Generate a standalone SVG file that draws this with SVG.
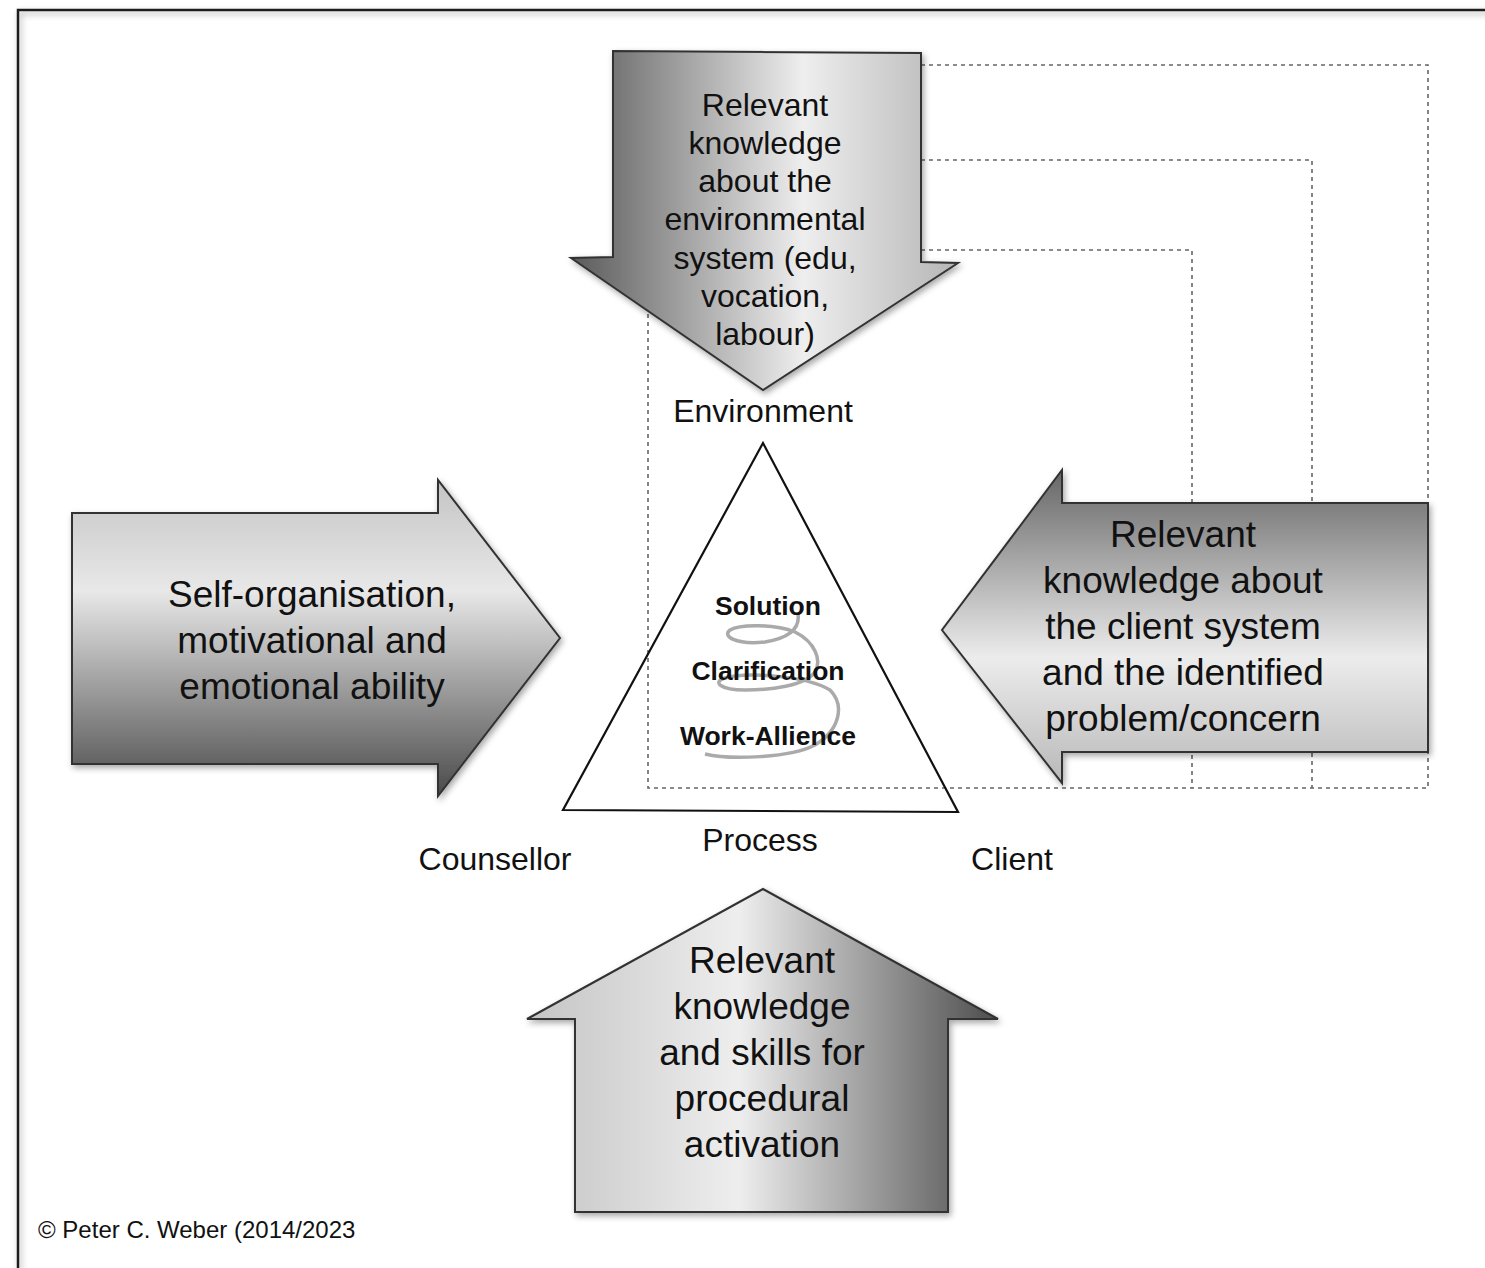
<svg xmlns="http://www.w3.org/2000/svg" width="1485" height="1268" viewBox="0 0 1485 1268">
<defs>
<style>
.t{font-family:"Liberation Sans",Arial,sans-serif;fill:#111;text-anchor:middle}
.big{font-size:37px}
.mid{font-size:32px}
.b{font-size:26.5px;font-weight:bold}
.arrow{stroke:#333;stroke-width:2;stroke-linejoin:miter}
.dash{fill:none;stroke:#666;stroke-width:1.6;stroke-dasharray:4 4}
</style>
<filter id="sh" x="-10%" y="-10%" width="125%" height="125%">
<feDropShadow dx="2" dy="3" stdDeviation="3" flood-color="#000" flood-opacity="0.35"/>
</filter>
<linearGradient id="gTop" x1="0" y1="0" x2="1" y2="0">
<stop offset="0" stop-color="#5a5a5a"/><stop offset="0.6" stop-color="#eeeeee"/><stop offset="1" stop-color="#b5b5b5"/>
</linearGradient>
<linearGradient id="gLeft" x1="0" y1="0" x2="0" y2="1">
<stop offset="0" stop-color="#c4c4c4"/><stop offset="0.35" stop-color="#e8e8e8"/><stop offset="1" stop-color="#4a4a4a"/>
</linearGradient>
<linearGradient id="gRight" x1="0" y1="0" x2="0" y2="1">
<stop offset="0" stop-color="#666"/><stop offset="0.6" stop-color="#ececec"/><stop offset="1" stop-color="#b8b8b8"/>
</linearGradient>
<linearGradient id="gBottom" x1="0" y1="0" x2="1" y2="0">
<stop offset="0" stop-color="#c4c4c4"/><stop offset="0.45" stop-color="#eeeeee"/><stop offset="1" stop-color="#4d4d4d"/>
</linearGradient>
</defs>
<rect width="1485" height="1268" fill="#fff"/>
<rect x="18" y="10" width="1500" height="1300" fill="none" stroke="#1a1a1a" stroke-width="2.5" filter="url(#sh)"/>

<g id="connectors">
<polyline class="dash" points="921,65 1428,65 1428,788"/>
<polyline class="dash" points="921,160 1312,160 1312,788"/>
<polyline class="dash" points="921,250 1192,250 1192,788"/>
<polyline class="dash" points="648,290 648,788 1428,788"/>
</g>

<g id="process-triangle">
<polygon points="763,443 563,810 958,812" fill="none" stroke="#111" stroke-width="2.2"/>
<path d="M798 614 C800 628,790 638,765 642 C735 645,722 636,730 630 C740 624,775 624,795 632 C815 642,822 660,815 672 C805 686,770 690,745 690 C720 690,712 682,725 678 C745 672,805 675,830 690 C845 705,840 730,815 745 C790 758,730 760,705 754" fill="none" stroke="#aaa" stroke-width="3.5"/>
<text class="t b" x="768" y="615">Solution</text>
<text class="t b" x="768" y="680">Clarification</text>
<text class="t b" x="768" y="745">Work-Allience</text>
</g>

<g id="top-arrow">
<polygon class="arrow" points="613,51 921,53 921,262 958,263 763,390 571,258 613,257" fill="url(#gTop)" filter="url(#sh)"/>
<text class="t mid" x="765" y="116">Relevant</text>
<text class="t mid" x="765" y="154">knowledge</text>
<text class="t mid" x="765" y="192">about the</text>
<text class="t mid" x="765" y="230">environmental</text>
<text class="t mid" x="765" y="269">system (edu,</text>
<text class="t mid" x="765" y="307">vocation,</text>
<text class="t mid" x="765" y="345">labour)</text>
</g>

<g id="left-arrow">
<polygon class="arrow" points="72,513 438,513 438,480 560,638 438,796 438,764 72,764" fill="url(#gLeft)" filter="url(#sh)"/>
<text class="t big" x="312" y="607">Self-organisation,</text>
<text class="t big" x="312" y="653">motivational and</text>
<text class="t big" x="312" y="699">emotional ability</text>
</g>

<g id="right-arrow">
<polygon class="arrow" points="1428,503 1062,503 1062,470 942,630 1062,783 1062,752 1428,752" fill="url(#gRight)" filter="url(#sh)"/>
<text class="t big" x="1183" y="547">Relevant</text>
<text class="t big" x="1183" y="593">knowledge about</text>
<text class="t big" x="1183" y="639">the client system</text>
<text class="t big" x="1183" y="685">and the identified</text>
<text class="t big" x="1183" y="731">problem/concern</text>
</g>

<g id="bottom-arrow">
<polygon class="arrow" points="763,889 998,1019 948,1019 948,1212 575,1212 575,1019 527,1019" fill="url(#gBottom)" filter="url(#sh)"/>
<text class="t big" x="762" y="973">Relevant</text>
<text class="t big" x="762" y="1019">knowledge</text>
<text class="t big" x="762" y="1065">and skills for</text>
<text class="t big" x="762" y="1111">procedural</text>
<text class="t big" x="762" y="1157">activation</text>
</g>

<g id="labels">
<text class="t mid" x="763" y="422">Environment</text>
<text class="t mid" x="495" y="870">Counsellor</text>
<text class="t mid" x="760" y="851">Process</text>
<text class="t mid" x="1012" y="870">Client</text>
<text class="t" x="38" y="1238" style="font-size:24px;text-anchor:start">© Peter C. Weber (2014/2023</text>
</g>
</svg>
